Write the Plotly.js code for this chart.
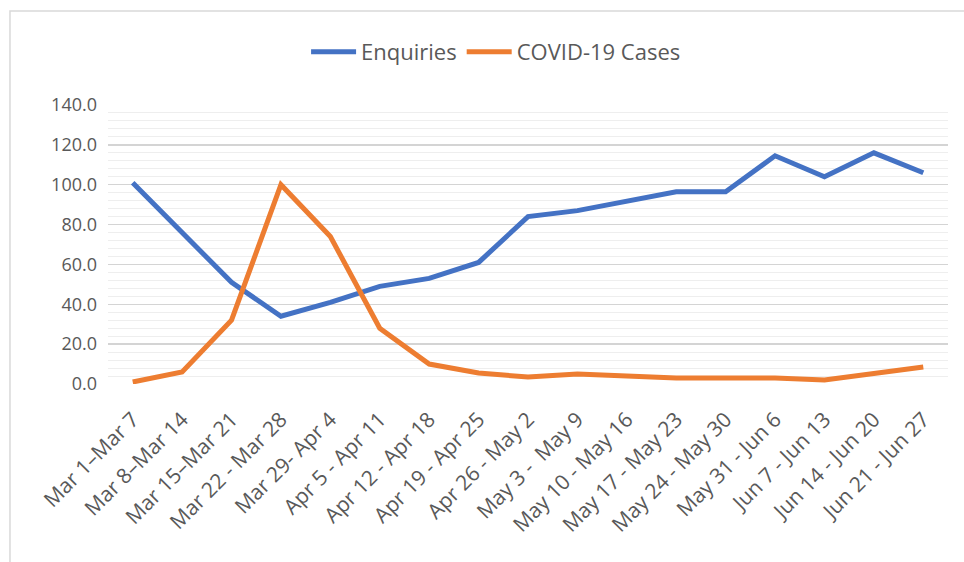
<!DOCTYPE html>
<html>
<head>
<meta charset="utf-8">
<script src="https://cdn.plot.ly/plotly-3.0.1.min.js"></script>
<style>html,body{margin:0;padding:0;background:#fff;}#chart{width:964px;height:562px;}</style>
</head>
<body>
<div id="chart"></div>
<script>
const weeks = ["Mar 1–Mar 7","Mar 8–Mar 14","Mar 15–Mar 21","Mar 22 - Mar 28","Mar 29- Apr 4","Apr 5 - Apr 11","Apr 12 - Apr 18","Apr 19 - Apr 25","Apr 26 - May 2","May 3 -  May 9","May 10 - May 16","May 17 - May 23","May 24 - May 30","May 31 - Jun 6","Jun 7 - Jun 13","Jun 14 - Jun 20","Jun 21 - Jun 27"];
const enquiries = [101, 76, 51, 34, 41, 49, 53, 61, 84, 87, 91.5, 96.5, 96.5, 114.5, 104, 116, 106];
const covidCases = [1, 6, 32, 100, 74, 28, 10, 5.5, 3.5, 5, 4, 3, 3, 3, 2, 5, 8.5];
const seriesNames = ["Enquiries", "COVID-19 Cases"];
const seriesColors = ["#4472C4", "#ED7D31"];

const traces = [enquiries, covidCases].map((vals, i) => ({
  x: weeks, y: vals, type: 'scatter', mode: 'lines', name: seriesNames[i],
  line: {color: seriesColors[i], width: 5}
}));

const layout = {
  width: 964, height: 562,
  margin: {l: 108, r: 16, t: 105, b: 178},
  paper_bgcolor: '#fff', plot_bgcolor: '#fff',
  font: {family: 'Open Sans, sans-serif', size: 16, color: '#595959'},
  showlegend: true,
  legend: {orientation: 'h', x: 0.462, xanchor: 'center', y: 1.19, yanchor: 'middle',
           font: {size: 22, color: '#595959'}, itemwidth: 45, traceorder: 'normal'},
  xaxis: {type: 'category', tickangle: -45, showgrid: false, zeroline: false,
          showline: false, ticks: '', range: [-0.5, 16.5], automargin: false,
          ticklabelstandoff: 18,
          tickfont: {size: 21, color: '#595959'}},
  yaxis: {range: [0, 140], dtick: 20, tick0: 0, tickformat: '.1f', automargin: false,
          showgrid: true, gridcolor: '#d4d4d4', gridwidth: 1.5, zeroline: false,
          showline: false, ticks: '', ticklabelstandoff: 10,
          tickfont: {size: 18, color: '#595959'},
          minor: {dtick: 4, showgrid: true, gridcolor: '#eeeeee', gridwidth: 1}},
  shapes: [{type: 'rect', xref: 'paper', yref: 'paper',
            x0: -0.1167, x1: 1.1, y0: -0.7, y1: 1.337,
            line: {color: '#d9d9d9', width: 1.5}, fillcolor: 'rgba(0,0,0,0)', layer: 'below'}]
};

Plotly.newPlot('chart', traces, layout, {displayModeBar: false, staticPlot: true});
</script>
</body>
</html>
